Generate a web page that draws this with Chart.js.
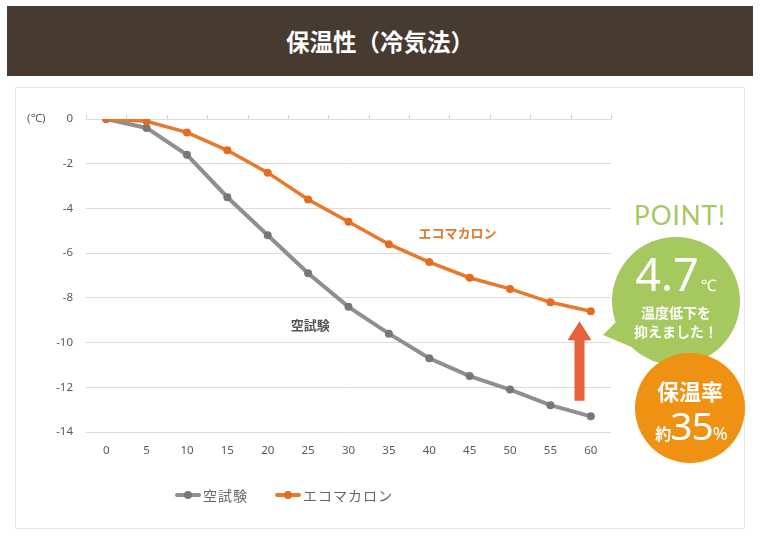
<!DOCTYPE html>
<html lang="ja">
<head>
<meta charset="utf-8">
<script src="https://cdn.jsdelivr.net/npm/chart.js@4"></script>
<style>
  body { margin: 0; background: #fff; width: 760px; height: 541px; position: relative; overflow: hidden;
         font-family: "Noto Sans", "Noto Sans CJK JP", sans-serif; }
  #header { position: absolute; left: 7px; top: 6px; width: 746px; height: 70px; background: #463a31;
            color: #fff; font: bold 23.5px "Noto Sans CJK JP", sans-serif; text-align: center; line-height: 70px; }
  #panel { position: absolute; left: 15px; top: 87px; width: 728px; height: 440px; border: 1px solid #e6e6e6; }
  #chartBox { position: absolute; left: 15px; top: 87px; width: 610px; height: 441px; }
  #legend { position: absolute; top: 485px; left: 175px; font: 14px "Noto Sans CJK JP", sans-serif; color: #666; }
  .item { position: absolute; top: 0; white-space: nowrap; letter-spacing: 1px; line-height: 20px; }
  .swatch { position: absolute; top: 8px; left: 0; width: 26px; height: 4px; border-radius: 2px; }
  .swatch i { position: absolute; left: 9px; top: -2px; width: 8px; height: 8px; border-radius: 50%; }
  .item span { position: absolute; left: 28px; top: 0; }
  #point { position: absolute; left: 628px; top: 199px; width: 104px; text-align: center;
           font: 400 26px "Lato", "Noto Sans", sans-serif; color: #a5c85f; letter-spacing: 1px; }
  #green { position: absolute; left: 612px; top: 237px; width: 128px; height: 128px; border-radius: 50%; background: #a5c85f; }
  #tail { position: absolute; left: 600px; top: 310px; width: 40px; height: 40px; background: #a5c85f;
          clip-path: polygon(3px 25px, 22px 6px, 34px 38px); }
  #big { position: absolute; left: 612px; top: 249px; width: 128px; text-align: center; color: #fff;
         font: 400 45px "Noto Sans", sans-serif; line-height: 50px; }
  #big small { font-size: 16px; margin-left: 2px; }
  #gtext { position: absolute; left: 612px; top: 303px; width: 128px; text-align: center; color: #fff;
           font: bold 14px "Noto Sans CJK JP", sans-serif; line-height: 19px; }
  #orange { position: absolute; left: 635px; top: 353px; width: 110px; height: 110px; border-radius: 50%; background: #ef9214; }
  #otext1 { position: absolute; left: 635px; top: 375px; width: 110px; text-align: center; color: #fff;
            font: bold 22px "Noto Sans CJK JP", sans-serif; line-height: 30px; }
  #otext2 { position: absolute; left: 635px; top: 404px; width: 112px; text-align: center; color: #fff;
            font: 400 39px "Noto Sans", sans-serif; line-height: 42px; white-space: nowrap; letter-spacing: -1px; }
  #otext2 .s { font: bold 16px "Noto Sans CJK JP", sans-serif; }
  #otext2 .p { font-size: 18px; }
</style>
</head>
<body>
<div id="header">保温性（冷気法）</div>
<div id="panel"></div>
<div id="chartBox"><canvas id="chart"></canvas></div>
<div id="legend">
  <div class="item" style="left:0"><div class="swatch" style="background:#8f8f8f"><i style="background:#777"></i></div><span>空試験</span></div>
  <div class="item" style="left:100px"><div class="swatch" style="background:#e8782c"><i style="background:#e46c1e"></i></div><span>エコマカロン</span></div>
</div>
<div id="point">POINT!</div>
<div id="tail"></div>
<div id="green"></div>
<div id="big">4.7<small>℃</small></div>
<div id="gtext">温度低下を<br>抑えました！</div>
<div id="orange"></div>
<div id="otext1">保温率</div>
<div id="otext2"><span class="s">約</span>35<span class="p">%</span></div>
<script>
// --- Data ---
const minutes = ['0', '5', '10', '15', '20', '25', '30', '35', '40', '45', '50', '55', '60'];
const blankTest = [0, -0.4, -1.6, -3.5, -5.2, -6.9, -8.4, -9.6, -10.7, -11.5, -12.1, -12.8, -13.3];
const ecoMacaron = [0, -0.1, -0.6, -1.4, -2.4, -3.6, -4.6, -5.6, -6.4, -7.1, -7.6, -8.2, -8.6];
const yTicks = [0, -2, -4, -6, -8, -10, -12, -14];

const tickFont = { size: 11.5, family: "'Noto Sans', sans-serif" };

// draws the small axis ticks at 0, unit label, series names and the arrow
const extrasPlugin = {
    id: 'extras',
    afterDatasetsDraw(chart) {
        const { ctx, scales: { x, y } } = chart;
        ctx.save();

        // tick marks on the 0 line
        ctx.strokeStyle = '#d0d0d0';
        ctx.lineWidth = 1;
        for (let i = 0; i <= minutes.length; i++) {
            const px = Math.round(x.getPixelForValue(i - 0.5)) + 0.5;
            ctx.beginPath();
            ctx.moveTo(px, y.getPixelForValue(0) - 4);
            ctx.lineTo(px, y.getPixelForValue(0));
            ctx.stroke();
        }

        // unit
        ctx.fillStyle = '#595959';
        ctx.font = "11.5px 'Noto Sans', 'Noto Sans CJK JP', sans-serif";
        ctx.textAlign = 'left';
        ctx.textBaseline = 'middle';
        ctx.fillText('(℃)', 12, y.getPixelForValue(0));

        // series names
        ctx.font = "bold 13px 'Noto Sans CJK JP', sans-serif";
        ctx.textAlign = 'center';
        ctx.fillStyle = '#e07b2e';
        ctx.fillText('エコマカロン', x.getPixelForValue(8.7), y.getPixelForValue(-5.1));
        ctx.fillStyle = '#555';
        ctx.fillText('空試験', x.getPixelForValue(5.05), y.getPixelForValue(-9.2));

        // arrow
        const ax = x.getPixelForValue(11.72);
        const top = y.getPixelForValue(-9.05);
        const bottom = y.getPixelForValue(-12.6);
        ctx.fillStyle = '#e8603c';
        ctx.beginPath();
        ctx.moveTo(ax, top);
        ctx.lineTo(ax + 12, top + 19);
        ctx.lineTo(ax + 5, top + 19);
        ctx.lineTo(ax + 5, bottom);
        ctx.lineTo(ax - 5, bottom);
        ctx.lineTo(ax - 5, top + 19);
        ctx.lineTo(ax - 12, top + 19);
        ctx.closePath();
        ctx.fill();

        ctx.restore();
    }
};

new Chart(document.getElementById('chart'), {
    type: 'line',
    data: {
        labels: minutes,
        datasets: [
            { label: '空試験', data: blankTest, borderColor: '#8f8f8f', borderWidth: 4,
              pointRadius: 4, pointBorderWidth: 0, pointBackgroundColor: '#777', order: 1 },
            { label: 'エコマカロン', data: ecoMacaron, borderColor: '#e8782c', borderWidth: 3.5,
              pointRadius: 4, pointBorderWidth: 0, pointBackgroundColor: '#e46c1e', order: 0 }
        ]
    },
    options: {
        responsive: true,
        maintainAspectRatio: false,
        animation: false,
        layout: { padding: { left: 0, right: 14, top: 32, bottom: 0 } },
        scales: {
            x: {
                offset: true,
                grid: { display: false, drawTicks: false },
                border: { display: false },
                ticks: { color: '#595959', font: tickFont, padding: 12, maxRotation: 0 },
                afterFit: s => { s.height = 96; }
            },
            y: {
                min: -14, max: 0,
                afterBuildTicks: s => { s.ticks = yTicks.map(v => ({ value: v })); },
                grid: { color: '#dcdcdc', drawTicks: false },
                border: { display: false },
                ticks: { color: '#595959', font: tickFont, padding: 13 },
                afterFit: s => { s.width = 71; }
            }
        },
        plugins: {
            legend: { display: false },
            tooltip: { enabled: false }
        }
    },
    plugins: [extrasPlugin]
});
</script>
</body>
</html>
